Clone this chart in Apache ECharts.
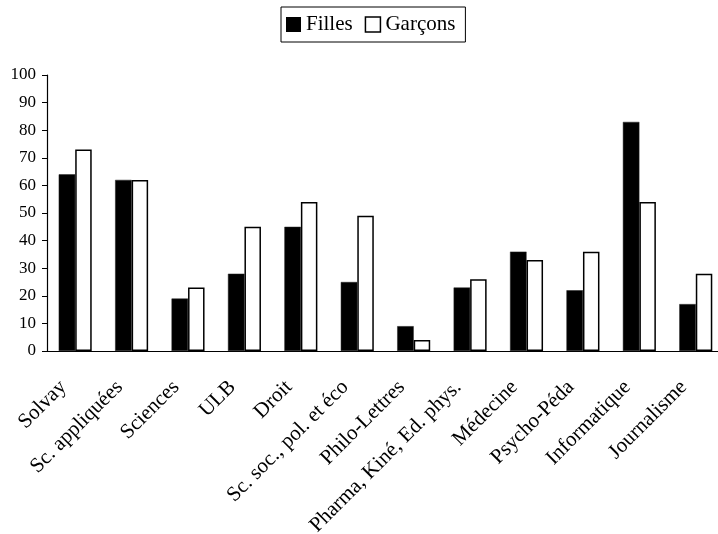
<!DOCTYPE html>
<html>
<head>
<meta charset="utf-8">
<script src="https://cdn.jsdelivr.net/npm/echarts@6/dist/echarts.min.js"></script>
<style>
  html, body { margin: 0; padding: 0; background: #fff; }
  #chart { width: 718px; height: 534px; }
</style>
</head>
<body>
<div id="chart"></div>
<script>
// Faculties (categories along the x axis)
const categories = [
  'Solvay', 'Sc. appliquées', 'Sciences', 'ULB', 'Droit',
  'Sc. soc., pol. et éco', 'Philo-Lettres', 'Pharma, Kiné, Ed. phys.',
  'Médecine', 'Psycho-Péda', 'Informatique', 'Journalisme'
];
// Percentages per faculty
const filles  = [64, 62, 19, 28, 45, 25, 9, 23, 36, 22, 83, 17];
const garcons = [73, 62, 23, 45, 54, 49, 4, 26, 33, 36, 54, 28];
// Value axis ticks
const yTicks = [0, 10, 20, 30, 40, 50, 60, 70, 80, 90, 100];

const FONT = '"Liberation Serif", "Times New Roman", serif';

const chart = echarts.init(document.getElementById('chart'), null, { renderer: 'canvas' });
chart.setOption({
  animation: false,
  backgroundColor: '#ffffff',
  legend: {
    left: 281,
    top: 7,
    orient: 'horizontal',
    borderColor: '#000',
    borderWidth: 1,
    padding: [7, 10, 7, 5],
    itemWidth: 15,
    itemHeight: 15,
    itemGap: 12,
    textStyle: { fontFamily: FONT, fontSize: 21, color: '#000' },
    data: [
      { name: 'Filles', icon: 'rect', itemStyle: { color: '#000', borderWidth: 0 } },
      { name: 'Garçons', icon: 'rect', itemStyle: { color: '#fff', borderColor: '#000', borderWidth: 1.5 } }
    ]
  },
  grid: {
    left: 47, right: -6, top: 75, bottom: 183,
    containLabel: false,
    outerBoundsMode: 'none'
  },
  xAxis: {
    type: 'category',
    data: categories,
    axisLine: { show: true, lineStyle: { color: '#000', width: 1.2 } },
    axisTick: { show: false },
    axisLabel: {
      rotate: 45,
      interval: 0,
      margin: 21,
      padding: [0, 17, 0, 0],
      fontFamily: FONT,
      fontSize: 21,
      color: '#000'
    },
    splitLine: { show: false }
  },
  yAxis: {
    type: 'value',
    min: yTicks[0],
    max: yTicks[yTicks.length - 1],
    interval: yTicks[1] - yTicks[0],
    axisLine: { show: true, lineStyle: { color: '#000', width: 1.2 } },
    axisTick: { show: true, length: 5, lineStyle: { color: '#000' } },
    axisLabel: { margin: 11, fontFamily: FONT, fontSize: 17, color: '#000' },
    splitLine: { show: false }
  },
  series: [
    {
      name: 'Filles',
      type: 'bar',
      data: filles,
      barWidth: 16.5,
      barGap: '0%',
      itemStyle: { color: '#000', borderColor: '#222', borderWidth: 0.5 }
    },
    {
      name: 'Garçons',
      type: 'bar',
      data: garcons,
      barWidth: 16.5,
      barGap: '0%',
      itemStyle: { color: '#fff', borderColor: '#000', borderWidth: 1.5 }
    }
  ]
});
</script>
</body>
</html>
